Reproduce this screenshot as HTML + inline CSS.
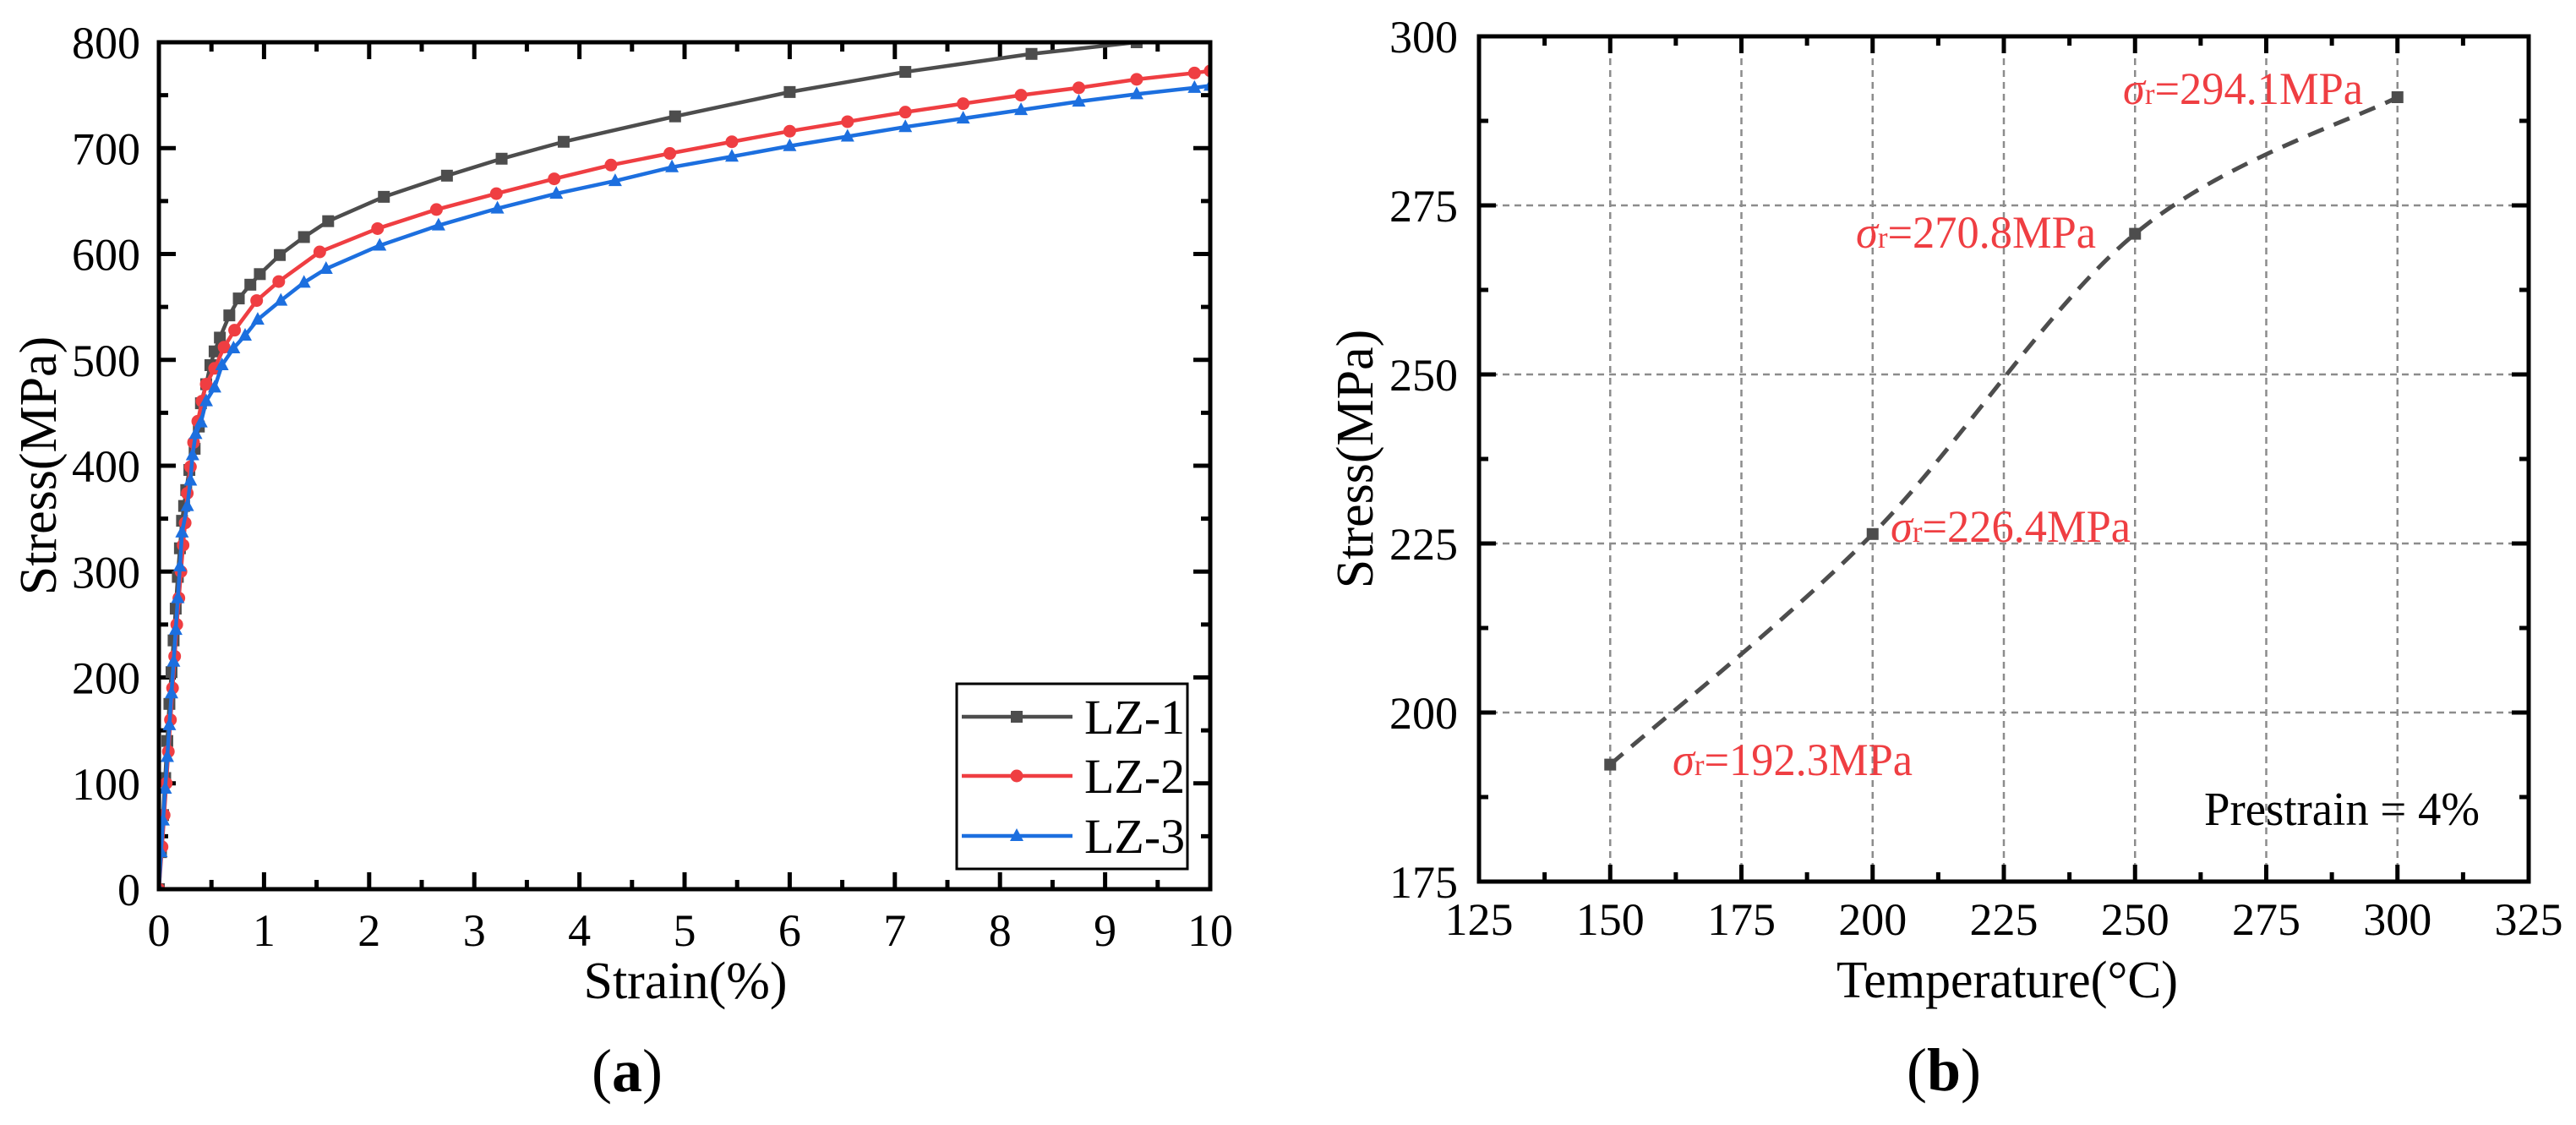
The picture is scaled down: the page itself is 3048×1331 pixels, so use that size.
<!DOCTYPE html>
<html><head><meta charset="utf-8"><style>
html,body{margin:0;padding:0;background:#fff;}
svg{display:block;font-family:"Liberation Serif","Times New Roman",serif;}
</style></head><body>
<svg id="fig" width="3048" height="1331" viewBox="0 0 3048 1331" xmlns="http://www.w3.org/2000/svg">
<defs>
<clipPath id="clipA"><rect x="188" y="50" width="1244" height="1003"/></clipPath>
</defs>
<g id="chartA"></g>
<g id="chartB"></g>
</svg>
<script>
// ---- Chart (a) data ----
const strainLZ1 = [0,0.02,0.04,0.06,0.08,0.10,0.12,0.14,0.16,0.18,0.20,0.22,0.24,0.26,0.29,0.34,0.38,0.40,0.45,0.49,0.53,0.58,0.67,0.76,0.87,0.96,1.15,1.38,1.61,2.14,2.74,3.26,3.85,4.91,6.0,7.1,8.3,9.3,10.0];
const stressLZ1 = [0,35,70,105,140,175,205,235,265,295,322,348,362,377,396,416,437,459,477,495,508,521,542,558,571,581,599,616,631,654,674,690,706,730,753,772,789,800,808];
const strainLZ2 = [0,0.03,0.05,0.07,0.09,0.11,0.13,0.15,0.17,0.19,0.21,0.23,0.25,0.27,0.30,0.33,0.37,0.41,0.45,0.53,0.62,0.72,0.93,1.14,1.53,2.08,2.64,3.21,3.76,4.30,4.86,5.45,6.0,6.55,7.1,7.65,8.2,8.75,9.3,9.85,10.0];
const stressLZ2 = [0,40,70,100,130,160,190,220,250,275,300,325,346,374,399,422,442,461,477,492,512,528,556,574,602,624,642,657,671,684,695,706,716,725,734,742,750,757,765,771,773];
const strainLZ3 = [0,0.02,0.04,0.06,0.08,0.10,0.12,0.14,0.16,0.18,0.20,0.22,0.27,0.30,0.32,0.35,0.40,0.45,0.53,0.60,0.71,0.82,0.94,1.16,1.38,1.59,2.10,2.66,3.22,3.78,4.34,4.88,5.45,6.0,6.55,7.1,7.65,8.2,8.75,9.3,9.85,10.0];
const stressLZ3 = [0,35,65,95,125,155,185,215,245,275,305,337,362,386,410,430,441,461,474,495,511,523,538,556,573,586,608,627,643,657,669,682,692,702,711,720,728,736,744,751,757,759];
const xTicksA = [0,1,2,3,4,5,6,7,8,9,10];
const yTicksA = [0,100,200,300,400,500,600,700,800];
const seriesNamesA = ["LZ-1","LZ-2","LZ-3"];
// ---- Chart (b) data ----
const temps = [150,200,250,300];
const stressB = [192.3,226.4,270.8,291.0];
const annotLabels = ["192.3MPa","226.4MPa","270.8MPa","294.1MPa"];
const xTicksB = [125,150,175,200,225,250,275,300,325];
const yTicksB = [175,200,225,250,275,300];

const NS="http://www.w3.org/2000/svg";
function mk(parent,tag,attrs,text){const e=document.createElementNS(NS,tag);for(const k in attrs)e.setAttribute(k,attrs[k]);if(text!==undefined)e.textContent=text;parent.appendChild(e);return e;}

// ===== Chart A =====
const gA=document.getElementById('chartA');
const A={x0:188,x1:1432,y0:1052,y1:50};
const xA=v=>A.x0+(v-0)/10*(A.x1-A.x0);
const yA=v=>A.y0-(v/800)*(A.y0-A.y1);
for(let v=0;v<=10.001;v+=0.5){const maj=Math.abs(v-Math.round(v))<1e-6;const L=maj?20:11;
 let t=mk(gA,'line',{x1:xA(v),x2:xA(v),y1:A.y0,y2:A.y0-L,stroke:'#000','stroke-width':5});
 
 t=mk(gA,'line',{x1:xA(v),x2:xA(v),y1:A.y1,y2:A.y1+L,stroke:'#000','stroke-width':5});
 }
for(let v=0;v<=800;v+=50){const maj=v%100===0;const L=maj?20:11;
 let t=mk(gA,'line',{x1:A.x0,x2:A.x0+L,y1:yA(v),y2:yA(v),stroke:'#000','stroke-width':5});
 
 t=mk(gA,'line',{x1:A.x1,x2:A.x1-L,y1:yA(v),y2:yA(v),stroke:'#000','stroke-width':5});
 }
xTicksA.forEach(v=>{const t=mk(gA,'text',{x:xA(v),y:1119,'font-size':54,'text-anchor':'middle'},String(v));
 });
yTicksA.forEach(v=>{const t=mk(gA,'text',{x:166,y:yA(v)+19,'font-size':54,'text-anchor':'end'},String(v));
 });
const colorsA=['#4d4d4d','#ef3e42','#1c6fdf'];
const dataA=[[strainLZ1,stressLZ1],[strainLZ2,stressLZ2],[strainLZ3,stressLZ3]];
const plotA=mk(gA,'g',{'clip-path':'url(#clipA)'});

function marker(parent,kind,x,y,c){let m;
 if(kind===0)m=mk(parent,'rect',{x:x-7,y:y-7,width:14,height:14,fill:c});
 else if(kind===1)m=mk(parent,'circle',{cx:x,cy:y,r:7.5,fill:c});
 else m=mk(parent,'polygon',{points:`${x},${y-9} ${x-8},${y+6} ${x+8},${y+6}`,fill:c});
 return m;}
dataA.forEach((d,i)=>{const pts=d[0].map((s,j)=>xA(s)+','+yA(d[1][j])).join(' ');
 const pl=mk(plotA,'polyline',{points:pts,fill:'none',stroke:colorsA[i],'stroke-width':4.5,'stroke-linejoin':'round'});
 
 d[0].forEach((s,j)=>{const m=marker(plotA,i,xA(s),yA(d[1][j]),colorsA[i]);
  });
});
const fA=mk(gA,'rect',{x:A.x0,y:A.y1,width:A.x1-A.x0,height:A.y0-A.y1,fill:'none',stroke:'#000','stroke-width':5});

const lg=mk(gA,'g',{});
mk(lg,'rect',{x:1132,y:809,width:273,height:219,fill:'#fff',stroke:'#000','stroke-width':3});
[848,918,989].forEach((ly,i)=>{const e=mk(lg,'g',{});
 
 mk(e,'line',{x1:1138,x2:1269,y1:ly,y2:ly,stroke:colorsA[i],'stroke-width':4.5});
 marker(e,i,1203,ly,colorsA[i]);
 mk(e,'text',{x:1283,y:ly+20,'font-size':58},seriesNamesA[i]);});
let t;
t=mk(gA,'text',{x:811,y:1181,'font-size':62,'text-anchor':'middle'},'Strain(%)');

t=mk(gA,'text',{x:0,y:0,'font-size':62,'text-anchor':'middle',transform:'translate(66,551) rotate(-90)'},'Stress(MPa)');

t=mk(gA,'text',{x:742,y:1291,'font-size':72,'text-anchor':'middle'});

t.innerHTML='(<tspan font-weight="bold">a</tspan>)';

// ===== Chart B =====
const gB=document.getElementById('chartB');
const B={x0:1750,x1:2992,y0:1043,y1:43};
const xB=v=>B.x0+(v-125)/200*(B.x1-B.x0);
const yB=v=>B.y0-(v-175)/125*(B.y0-B.y1);
[150,175,200,225,250,275,300].forEach(v=>{const g=mk(gB,'line',{x1:xB(v),x2:xB(v),y1:B.y0,y2:B.y1,stroke:'#8c8c8c','stroke-width':2.5,'stroke-dasharray':'8,6'});
 });
[200,225,250,275].forEach(v=>{const g=mk(gB,'line',{x1:B.x0,x2:B.x1,y1:yB(v),y2:yB(v),stroke:'#8c8c8c','stroke-width':2.5,'stroke-dasharray':'8,6'});
 });
for(let v=125;v<=325.001;v+=12.5){const maj=(v%25)===0;const L=maj?20:11;
 let k=mk(gB,'line',{x1:xB(v),x2:xB(v),y1:B.y0,y2:B.y0-L,stroke:'#000','stroke-width':5});
 
 k=mk(gB,'line',{x1:xB(v),x2:xB(v),y1:B.y1,y2:B.y1+L,stroke:'#000','stroke-width':5});
 }
for(let v=175;v<=300.001;v+=12.5){const maj=(v%25)===0;const L=maj?20:11;
 let k=mk(gB,'line',{x1:B.x0,x2:B.x0+L,y1:yB(v),y2:yB(v),stroke:'#000','stroke-width':5});
 
 k=mk(gB,'line',{x1:B.x1,x2:B.x1-L,y1:yB(v),y2:yB(v),stroke:'#000','stroke-width':5});
 }
xTicksB.forEach(v=>{const k=mk(gB,'text',{x:xB(v),y:1106,'font-size':54,'text-anchor':'middle'},String(v));
 });
yTicksB.forEach(v=>{const k=mk(gB,'text',{x:1725,y:yB(v)+19,'font-size':54,'text-anchor':'end'},String(v));
 });
const P=temps.map((tv,i)=>[xB(tv),yB(stressB[i])]);
let d='M'+P[0][0]+','+P[0][1];
for(let i=0;i<P.length-1;i++){const p0=P[Math.max(0,i-1)],p1=P[i],p2=P[i+1],p3=P[Math.min(P.length-1,i+2)];
 const c1=[p1[0]+(p2[0]-p0[0])/6,p1[1]+(p2[1]-p0[1])/6],c2=[p2[0]-(p3[0]-p1[0])/6,p2[1]-(p3[1]-p1[1])/6];
 d+=` C${c1[0]},${c1[1]} ${c2[0]},${c2[1]} ${p2[0]},${p2[1]}`;}
const cv=mk(gB,'path',{d:d,fill:'none',stroke:'#4d4d4d','stroke-width':5,'stroke-dasharray':'20,13'});

P.forEach(p=>{const m=mk(gB,'rect',{x:p[0]-7,y:p[1]-7,width:14,height:14,fill:'#4d4d4d'});
 });
const annPos=[[1979,917],[2237,641],[2196,293],[2512,123]];
annotLabels.forEach((lab,i)=>{const a=mk(gB,'text',{x:annPos[i][0],y:annPos[i][1],'font-size':54,fill:'#ef3e42',textLength:284,lengthAdjust:'spacingAndGlyphs'});
 
 a.innerHTML='<tspan font-style="italic">σ</tspan><tspan font-size="36">r</tspan>='+lab;});
t=mk(gB,'text',{x:2608,y:976,'font-size':56,textLength:326,lengthAdjust:'spacingAndGlyphs'},'Prestrain = 4%');

const fB=mk(gB,'rect',{x:B.x0,y:B.y1,width:B.x1-B.x0,height:B.y0-B.y1,fill:'none',stroke:'#000','stroke-width':5});

t=mk(gB,'text',{x:2375,y:1180,'font-size':62,'text-anchor':'middle',textLength:404,lengthAdjust:'spacingAndGlyphs'},'Temperature(°C)');

t=mk(gB,'text',{x:0,y:0,'font-size':62,'text-anchor':'middle',transform:'translate(1624,543) rotate(-90)'},'Stress(MPa)');

t=mk(gB,'text',{x:2300,y:1290,'font-size':72,'text-anchor':'middle'});

t.innerHTML='(<tspan font-weight="bold">b</tspan>)';
</script>
</body></html>
